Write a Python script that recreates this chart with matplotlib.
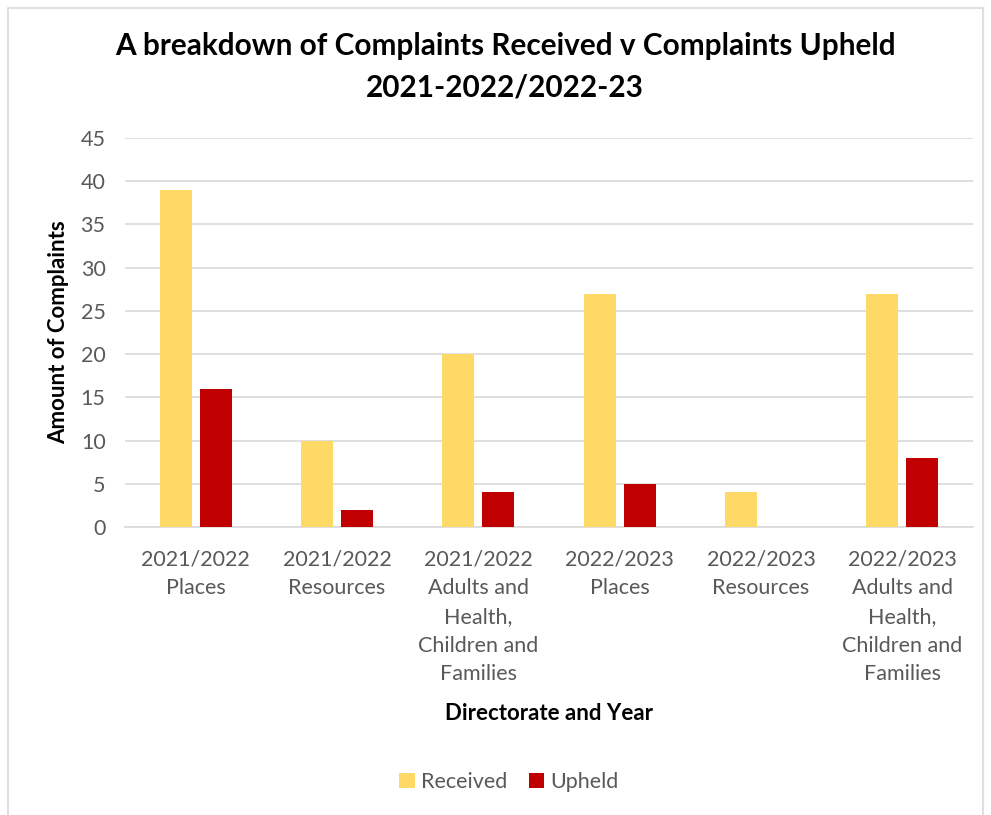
import matplotlib
matplotlib.use("Agg")
import matplotlib.pyplot as plt
import numpy as np
from matplotlib.patches import Rectangle

categories = ["2021/2022\nPlaces", "2021/2022\nResources", "2021/2022\nAdults and\nHealth,\nChildren and\nFamilies",
              "2022/2023\nPlaces", "2022/2023\nResources", "2022/2023\nAdults and\nHealth,\nChildren and\nFamilies"]
received = [39, 10, 20, 27, 4, 27]
upheld = [16, 2, 4, 5, 0, 8]

plt.rcParams['font.family'] = ['Lato', 'DejaVu Sans']

fig = plt.figure(figsize=(9.91, 8.15), dpi=100)
W, H = 991, 815
ax = fig.add_axes([125 / W, 1 - 527 / H, 848 / W, (527 - 138) / H])

x = np.arange(len(categories))
bw = 0.226
off = 0.141
ax.bar(x - off, received, bw, color="#FFD966", label="Received", zorder=3)
ax.bar(x + off, upheld, bw, color="#C00000", label="Upheld", zorder=3)

ax.set_xlim(-0.5, len(categories) - 0.5)
ax.set_ylim(0, 45)
ax.set_yticks(range(0, 46, 5))
ax.grid(axis="y", color="#D9D9D9", linewidth=1.2, zorder=0)
for s in ["top", "right", "left"]:
    ax.spines[s].set_visible(False)
ax.spines["bottom"].set_color("#D9D9D9")
ax.spines["bottom"].set_linewidth(1.2)
ax.tick_params(axis="both", length=0, colors="#595959", labelsize=15.5)
ax.tick_params(axis="y", pad=14)
ax.tick_params(axis="x", pad=16)
ax.set_xticks(x)
ax.set_xticklabels(categories, linespacing=1.55)

ax.set_ylabel("Amount of Complaints", fontsize=16, fontweight="bold", color="black", labelpad=8)
fig.text(549 / W, 1 - 713 / H, "Directorate and Year", ha="center", va="center",
         fontsize=16, fontweight="bold")
fig.text(505 / W, 1 - 67 / H, "A breakdown of Complaints Received v Complaints Upheld\n2021-2022/2022-23",
         ha="center", va="center", fontsize=21.4, fontweight="bold", linespacing=1.6)

fig.legend(loc="center", bbox_to_anchor=(509 / W, 1 - 782 / H), ncol=2, frameon=False,
           fontsize=15.5, labelcolor="#595959", handlelength=0.7, handleheight=0.7,
           columnspacing=1.0, handletextpad=0.3)

fig.patches.append(Rectangle((8 / W, -0.01), (983 - 8) / W, 1 - 8 / H + 0.01,
                             transform=fig.transFigure, fill=False, edgecolor="#D9D9D9", linewidth=1.2))

fig.savefig("out.png", dpi=100)
